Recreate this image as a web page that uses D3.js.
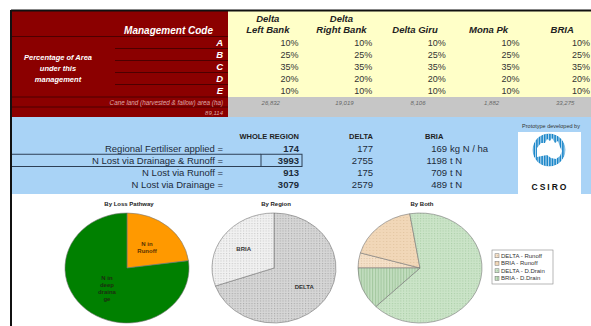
<!DOCTYPE html>
<html>
<head>
<meta charset="utf-8">
<script src="https://cdn.jsdelivr.net/npm/d3@7"></script>
<style>
  body { margin: 0; background: #fff; }
  svg { display: block; }
  text { font-family: "Liberation Sans", Arial, sans-serif; }
</style>
</head>
<body>
<div id="chart"></div>
<script>
// ---- data ----
const areaColumns = [["Delta", "Left Bank"], ["Delta", "Right Bank"], ["", "Delta Giru"], ["", "Mona Pk"], ["", "BRIA"]];
const mgmtCodes = ["A", "B", "C", "D", "E"];
const areaPct = [
    [10, 25, 35, 20, 10],
    [10, 25, 35, 20, 10],
    [10, 25, 35, 20, 10],
    [10, 25, 35, 20, 10],
    [10, 25, 35, 20, 10]
];
const caneArea = ["26,832", "19,019", "8,106", "1,882", "33,275"];
const caneTotal = "89,114";

const summaryLabels = ["Regional Fertiliser applied =", "N Lost via Drainage & Runoff =", "N Lost via Runoff =", "N Lost via Drainage ="];
const wholeRegion = [174, 3993, 913, 3079];
const deltaVals = [177, 2755, 175, 2579];
const briaVals = [169, 1198, 709, 489];
const briaUnits = ["kg N / ha", "t N", "t N", "t N"];

const pathwayLabels = [["N in", "Runoff"], ["N in", "deep", "draina", "ge"]];
const pathwayValues = [913, 3079];
const regionLabels = ["DELTA", "BRIA"];
const regionValues = [2755, 1198];
const bothLabels = ["DELTA - Runoff", "BRIA - Runoff", "DELTA - D.Drain", "BRIA - D.Drain"];
const bothValues = [175, 709, 2579, 489];

const W = 591, H = 326;
const svg = d3.select('#chart').append('svg').attr('width', W).attr('height', H);
const defs = svg.append('defs');

// fill patterns (Excel style dotted / hatched fills)
function dotPattern(id, bg, dot, size, lines) {
    const p = defs.append('pattern').attr('id', id).attr('patternUnits', 'userSpaceOnUse')
        .attr('width', size).attr('height', size);
    p.append('rect').attr('width', size).attr('height', size).attr('fill', bg);
    if (lines) p.append('rect').attr('width', 1).attr('height', size).attr('fill', dot);
    else p.append('rect').attr('width', 1).attr('height', 1).attr('fill', dot);
}
dotPattern('pDelta', '#d6d6d6', '#a8a8a8', 2.5);
dotPattern('pBria', '#f1f1f1', '#c8c8c8', 2.5);
dotPattern('pDR', '#f5e1c9', '#dcc2a2', 2.5);
dotPattern('pBR', '#f1d7b8', '#e3c6a2', 3);
dotPattern('pDD', '#cbe4c8', '#a9cda6', 2.5);
dotPattern('pBD', '#c4dfc1', '#a3c79f', 2.5, true);

// ---- top block: red labels, yellow table ----
const x = d3.scaleBand().domain(d3.range(areaColumns.length)).range([228, 596]);
const y = d3.scaleBand().domain(mgmtCodes).range([36.5, 96.5]);
// last column sits on the window edge; keep its text inside
const colRight = i => Math.min(x(i) + x.bandwidth() - 3, W - 1);

svg.append('rect').attr('x', 12).attr('y', 11).attr('width', 216).attr('height', 106).attr('fill', '#8b0000');
svg.append('rect').attr('x', 228).attr('y', 11).attr('width', W - 228).attr('height', 86).attr('fill', '#ffffc8');
svg.append('rect').attr('x', 228).attr('y', 97).attr('width', W - 228).attr('height', 20).attr('fill', '#c6c6c6');

const redLines = svg.append('g').attr('stroke', '#4d0000').attr('stroke-width', 1);
[36.5, 97, 107].forEach(v => redLines.append('line').attr('x1', 12).attr('x2', 228).attr('y1', v).attr('y2', v));
mgmtCodes.slice(1).forEach(c => redLines.append('line')
    .attr('x1', 115).attr('x2', 228).attr('y1', y(c)).attr('y2', y(c)));

svg.append('text').attr('x', 213).attr('y', 34).attr('text-anchor', 'end')
    .attr('fill', '#fff').style('font-size', '10px').style('font-weight', 'bold').style('font-style', 'italic')
    .text('Management Code');

svg.selectAll('.code').data(mgmtCodes).enter().append('text')
    .attr('x', 223).attr('y', d => y(d) + y.bandwidth() / 2 + 3.5).attr('text-anchor', 'end')
    .attr('fill', '#fff').style('font-size', '9.5px').style('font-weight', 'bold').style('font-style', 'italic')
    .text(d => d);

svg.selectAll('.pctLab').data(['Percentage of Area', 'under this', 'management']).enter().append('text')
    .attr('x', 58).attr('y', (d, i) => 60 + i * 11).attr('text-anchor', 'middle')
    .attr('fill', '#fff').style('font-size', '7.5px').style('font-weight', 'bold').style('font-style', 'italic')
    .text(d => d);

svg.append('text').attr('x', 223).attr('y', 104.5).attr('text-anchor', 'end')
    .attr('fill', '#dba8a8').style('font-size', '6.3px').style('font-style', 'italic')
    .text('Cane land (harvested & fallow) area (ha)');
svg.append('text').attr('x', 223).attr('y', 115).attr('text-anchor', 'end')
    .attr('fill', '#dba8a8').style('font-size', '6px').style('font-style', 'italic')
    .text(caneTotal);

// column headers
areaColumns.forEach((col, i) => {
    const cx = Math.min(x(i) + x.bandwidth() / 2 + 3, W - 20);
    col.forEach((t, j) => {
        if (!t) return;
        svg.append('text').attr('x', cx).attr('y', 22 + j * 11).attr('text-anchor', 'middle')
            .attr('fill', '#222').style('font-size', '9.5px').style('font-weight', 'bold').style('font-style', 'italic')
            .text(t);
    });
});

// percentage cells
areaPct.forEach((vals, i) => {
    svg.selectAll(null).data(vals).enter().append('text')
        .attr('x', colRight(i))
        .attr('y', (d, k) => y(mgmtCodes[k]) + y.bandwidth() / 2 + 3.5)
        .attr('text-anchor', 'end').attr('fill', '#333').style('font-size', '9px')
        .text(d => d + '%');
});

svg.selectAll('.cane').data(caneArea).enter().append('text')
    .attr('x', (d, i) => Math.min(x(i) + x.bandwidth() / 2 + 6, W - 14)).attr('y', 104.5).attr('text-anchor', 'middle')
    .attr('fill', '#666').style('font-size', '6px').style('font-style', 'italic')
    .text(d => d);

// ---- summary block (blue) ----
svg.append('rect').attr('x', 12).attr('y', 117).attr('width', W - 12).attr('height', 77).attr('fill', '#a9d3f6');
const ys = d3.scaleBand().domain(d3.range(summaryLabels.length)).range([142, 191]);
const mid = i => ys(i) + ys.bandwidth() / 2 + 3.5;

svg.append('line').attr('x1', 12).attr('x2', 261).attr('y1', ys(1)).attr('y2', ys(1)).attr('stroke', '#2d3f55');
svg.append('line').attr('x1', 12).attr('x2', 261).attr('y1', ys(2)).attr('y2', ys(2)).attr('stroke', '#2d3f55');
svg.append('rect').attr('x', 261).attr('y', ys(1)).attr('width', 41).attr('height', ys.bandwidth())
    .attr('fill', 'none').attr('stroke', '#2d3f55');

const hdr = [['WHOLE REGION', 299, 'end'], ['DELTA', 373, 'end'], ['BRIA', 425, 'start']];
hdr.forEach(h => svg.append('text').attr('x', h[1]).attr('y', 139).attr('text-anchor', h[2])
    .attr('fill', '#222').style('font-size', '7.5px').style('font-weight', 'bold').text(h[0]));

svg.selectAll('.slab').data(summaryLabels).enter().append('text')
    .attr('x', 223).attr('y', (d, i) => mid(i)).attr('text-anchor', 'end')
    .attr('fill', '#1d2b3a').style('font-size', '9.5px').text(d => d);
svg.selectAll('.whole').data(wholeRegion).enter().append('text')
    .attr('x', 299).attr('y', (d, i) => mid(i)).attr('text-anchor', 'end')
    .attr('fill', '#1d2b3a').style('font-size', '9.5px').style('font-weight', 'bold').text(d => d);
svg.selectAll('.delta').data(deltaVals).enter().append('text')
    .attr('x', 373).attr('y', (d, i) => mid(i)).attr('text-anchor', 'end')
    .attr('fill', '#1d2b3a').style('font-size', '9.5px').text(d => d);
svg.selectAll('.bria').data(briaVals).enter().append('text')
    .attr('x', 447).attr('y', (d, i) => mid(i)).attr('text-anchor', 'end')
    .attr('fill', '#1d2b3a').style('font-size', '9.5px').text(d => d);
svg.selectAll('.unit').data(briaUnits).enter().append('text')
    .attr('x', 450).attr('y', (d, i) => mid(i))
    .attr('fill', '#1d2b3a').style('font-size', '9.5px').text(d => d);

// logo
svg.append('text').attr('x', 551).attr('y', 128).attr('text-anchor', 'middle')
    .attr('fill', '#333').style('font-size', '5.5px').text('Prototype developed by');
svg.append('rect').attr('x', 518).attr('y', 132).attr('width', 63).attr('height', 62).attr('fill', '#fff');
defs.append('clipPath').attr('id', 'logoClip').append('circle').attr('cx', 549).attr('cy', 150).attr('r', 16.5);
const logo = svg.append('g').attr('clip-path', 'url(#logoClip)');
logo.append('circle').attr('cx', 549).attr('cy', 150).attr('r', 16.5).attr('fill', '#1b87c9');
d3.range(533, 567, 2.6).forEach(v => logo.append('line').attr('x1', v).attr('x2', v)
    .attr('y1', 133).attr('y2', 168).attr('stroke', '#e8f3fb').attr('stroke-width', 0.8));
logo.append('path').attr('fill', '#fff')
    .attr('d', 'M537,148 L541,143 L545,143 L547,139 L550,141 L552,138 L555,143 L558,141 L560,147 L562,151 L560,156 L556,159 L551,158 L547,155 L542,156 L537,157 Z');
svg.append('text').attr('x', 550).attr('y', 190).attr('text-anchor', 'middle')
    .attr('fill', '#111').style('font-size', '8.5px').style('font-weight', 'bold').style('letter-spacing', '2px')
    .text('CSIRO');

// ---- pies ----
const ry = 55, rx = 62;
const arc = d3.arc().innerRadius(0).outerRadius(ry);

function drawPie(cx, cy, title, values, fills, startAngle) {
    const pie = d3.pie().sort(null).value(d => d)
        .startAngle(startAngle).endAngle(startAngle + 2 * Math.PI);
    svg.append('text').attr('x', cx + 2).attr('y', 206).attr('text-anchor', 'middle')
        .attr('fill', '#222').style('font-size', '6px').style('font-weight', 'bold').text(title);
    const g = svg.append('g').attr('transform', `translate(${cx},${cy}) scale(${rx / ry},1)`);
    g.selectAll('path').data(pie(values)).enter().append('path')
        .attr('d', arc).attr('fill', (d, i) => fills[i])
        .attr('stroke', '#777').attr('stroke-width', 0.6).attr('vector-effect', 'non-scaling-stroke');
    return pie(values);
}

const lbl = (cx, cy, p, r, lines, fill) => {
    const a = (p.startAngle + p.endAngle) / 2;
    const px = cx + Math.sin(a) * r * rx / ry, py = cy - Math.cos(a) * r;
    svg.append('text').attr('text-anchor', 'middle').attr('fill', fill)
        .style('font-size', '6px').style('font-weight', 'bold')
        .selectAll('tspan').data(lines).enter().append('tspan')
        .attr('x', px).attr('y', (d, i) => py + 2 + (i - (lines.length - 1) / 2) * 7).text(d => d);
};

const p1 = drawPie(127, 268, 'By Loss Pathway', pathwayValues, ['#ff9900', '#008000'], 0);
lbl(127, 268, p1[0], 27, pathwayLabels[0], '#5a3300');
lbl(127, 268, p1[1], 27, pathwayLabels[1], '#1c2e10');

const p2 = drawPie(274, 268, 'By Region', regionValues, ['url(#pDelta)', 'url(#pBria)'], 0);
lbl(274, 268, p2[0], 33, [regionLabels[0]], '#333');
lbl(274, 268, p2[1], 33, [regionLabels[1]], '#333');

const bothFills = ['url(#pDR)', 'url(#pBR)', 'url(#pDD)', 'url(#pBD)'];
drawPie(420, 268, 'By Both', bothValues, bothFills, -Math.PI / 2);

// legend
const lg = svg.append('g').attr('transform', 'translate(492,250)');
lg.append('rect').attr('width', 61).attr('height', 34).attr('fill', '#fff').attr('stroke', '#888').attr('stroke-width', 0.6);
const ly = d3.scaleBand().domain(bothLabels).range([2, 32]);
lg.selectAll('.mk').data(bothLabels).enter().append('rect')
    .attr('x', 3).attr('y', d => ly(d) + ly.bandwidth() / 2 - 2).attr('width', 4).attr('height', 4)
    .attr('fill', (d, i) => bothFills[i]).attr('stroke', '#777').attr('stroke-width', 0.5);
lg.selectAll('.lt').data(bothLabels).enter().append('text')
    .attr('x', 9).attr('y', d => ly(d) + ly.bandwidth() / 2 + 2)
    .attr('fill', '#333').style('font-size', '6px').text(d => d);

// sheet border
svg.append('line').attr('x1', 11).attr('x2', W).attr('y1', 10.5).attr('y2', 10.5).attr('stroke', '#111').attr('stroke-width', 2);
svg.append('line').attr('x1', 11).attr('x2', 11).attr('y1', 10).attr('y2', H).attr('stroke', '#111').attr('stroke-width', 2);
</script>
</body>
</html>
